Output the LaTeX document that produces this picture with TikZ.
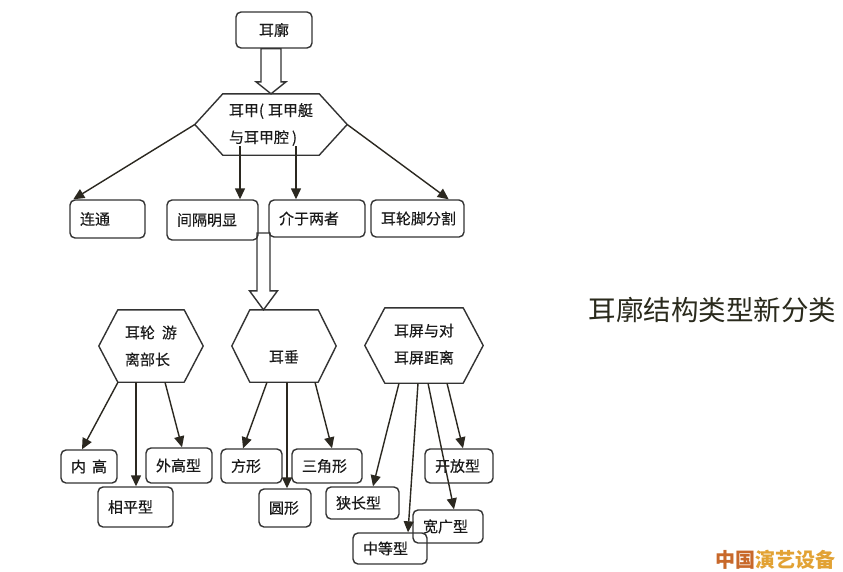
\documentclass[tikz,border=0pt]{standalone}
\usepackage{fontspec}
\setmainfont{Noto Sans CJK SC}
\newfontfamily\boxfont[FakeBold=0.35]{Noto Sans CJK SC}
\usetikzlibrary{arrows.meta,calc}
\definecolor{ln}{HTML}{333333}
\definecolor{ar}{HTML}{2B2820}
\definecolor{tx}{HTML}{1A1A1A}
\definecolor{ttl}{HTML}{2A2A1C}
\definecolor{wmA}{HTML}{C8682A}
\definecolor{wmB}{HTML}{E2A234}
\tikzset{
  box/.style={draw=ln, line width=1.4pt, rounded corners=5pt, inner ysep=0pt, inner xsep=10pt,
    align=left, text=tx, font=\boxfont\fontsize{15pt}{27pt}\selectfont},
  hexnode/.style={inner sep=0pt, align=left, text=tx, font=\boxfont\fontsize{15pt}{27pt}\selectfont},
  hexline/.style={draw=ln, line width=1.4pt, line join=round},
  arr/.style={draw=ar, line width=1.4pt, -{Triangle[length=11pt,width=10pt]}},
  bigarr/.style={draw=ln, line width=1.4pt, line join=miter},
}
\newcommand\bx[6]{%
  \pgfmathsetmacro\bxw{#4-#2-20}%
  \pgfmathsetmacro\bxh{#5-#3}%
  \node[box, minimum height=\bxh pt, text width=\bxw pt] (#1) at ({(#2+#4)/2},{(#3+#5)/2}) {#6};}
\newcommand\hexof[2]{%
  \draw[hexline] (#1.west) -- ($(#1.north west)+(#2,0)$) -- ($(#1.north east)+(-#2,0)$)
    -- (#1.east) -- ($(#1.south east)+(-#2,0)$) -- ($(#1.south west)+(#2,0)$) -- cycle;}
\newcommand\fatarrow[5]{%
  \draw[bigarr] let \p1=(#1), \p2=(#2) in
    (\x2-#3,\y1) -- (\x2-#3,\y2+#5) -- (\x2-#4,\y2+#5) -- (\x2,\y2)
    -- (\x2+#4,\y2+#5) -- (\x2+#3,\y2+#5) -- (\x2+#3,\y1) -- cycle;}
\begin{document}
\begin{tikzpicture}[x=1pt,y=-1pt]
\useasboundingbox[fill=white] (0,0) rectangle (843,571);

% top
\node[box, align=center, minimum width=76pt, minimum height=36pt, inner xsep=0pt] (ek) at (274,30) {耳廓};
\node[hexnode, minimum width=152pt, minimum height=61pt] (hj) at (271,124.5)
  {\raisebox{-2pt}{耳甲(\hspace{4pt}耳甲艇}\\\raisebox{-2pt}{与耳甲腔\hspace{3pt})}};
\hexof{hj}{28}

\bx{lt}{70}{200}{145}{238}{连通}
\bx{jg}{167}{200}{258}{240}{间隔明显}
\bx{jz}{269}{200}{365}{237}{介于两者}
\bx{ej}{371}{200}{464}{237}{耳轮脚分割}

\fatarrow{ek.south}{hj.north}{10pt}{15pt}{12pt}

\draw[arr] (hj.west) -- ($(lt.north west)+(4,0)$);
\draw[arr] (hj.east) -- ($(ej.north east)+(-16,0)$);
\draw[arr] ($(hj.south)+(-31,-9)$) -- ($(jg.north)+(27.5,0)$);
\draw[arr] ($(hj.south)+(25,-9)$) -- ($(jz.north)+(-21,0)$);

% middle hexagons
\node[hexnode, minimum width=104pt, minimum height=72pt] (h1) at (151,346)
  {\mbox{耳轮\hspace{7pt}游}\\离部长};
\hexof{h1}{19}
\node[hexnode, minimum width=104pt, minimum height=72pt] (h2) at (284,346)
  {\raisebox{-11pt}[11pt][0pt]{耳垂}};
\hexof{h2}{18}
\node[hexnode, minimum width=118pt, minimum height=75pt] (h3) at (424,345.5)
  {\raisebox{4pt}{耳屏与对}\\\raisebox{4pt}{耳屏距离}};
\hexof{h3}{20}

\coordinate (gtop) at (263.5,233);
\fatarrow{gtop}{gtop |- h2.north}{6.5pt}{14pt}{19pt}

% bottom boxes
\bx{ng}{61}{450}{117}{483}{\mbox{内\hspace{6pt}高}}
\bx{xp}{98}{487}{173}{527}{相平型}
\bx{wg}{146}{448}{212}{483}{外高型}
\bx{fx}{221}{449}{282}{483}{方形}
\bx{yx}{259}{489}{311}{527}{圆形}
\bx{sj}{292}{449}{362}{483}{三角形}
\bx{xc}{326}{487}{399}{519}{狭长型}
\bx{kf}{425}{449}{493}{483}{开放型}
\bx{kg}{413}{510}{483}{543}{宽广型}
\bx{zd}{353}{533}{427}{564}{中等型}

\draw[arr] ($(h1.south)+(-33,0)$) -- ($(ng.north)+(-7,0)$);
\draw[arr] ($(h1.south)+(-15,0)$) -- ($(xp.north)+(0.5,0)$);
\draw[arr] ($(h1.south)+(14,0)$) -- ($(wg.north)+(3,0)$);

\draw[arr] ($(h2.south)+(-17,0)$) -- ($(fx.north)+(-8.5,0)$);
\draw[arr] ($(h2.south)+(3,0)$) -- ($(yx.north)+(2,0)$);
\draw[arr] ($(h2.south)+(31,0)$) -- ($(sj.north)+(5,0)$);

\draw[arr] ($(h3.south)+(-25,0)$) -- ($(xc.north)+(10.5,0)$);
\draw[arr] ($(h3.south)+(-6,0)$) -- ($(zd.north)+(18,0)$);
\draw[arr] ($(h3.south)+(4,0)$) -- ($(kg.north)+(6,0)$);
\draw[arr] ($(h3.south)+(23,0)$) -- ($(kf.north)+(4,0)$);

% title and mark
\node[text=ttl, font=\fontsize{27.5pt}{30pt}\selectfont, inner sep=0pt] (title) at (712.5,310) {耳廓结构类型新分类};
\node[font=\fontsize{20pt}{22pt}\selectfont\bfseries, inner sep=0pt] (mark) at (775,560)
  {\textcolor{wmA}{中国}\textcolor{wmB}{演艺设备}};
\end{tikzpicture}
\end{document}
